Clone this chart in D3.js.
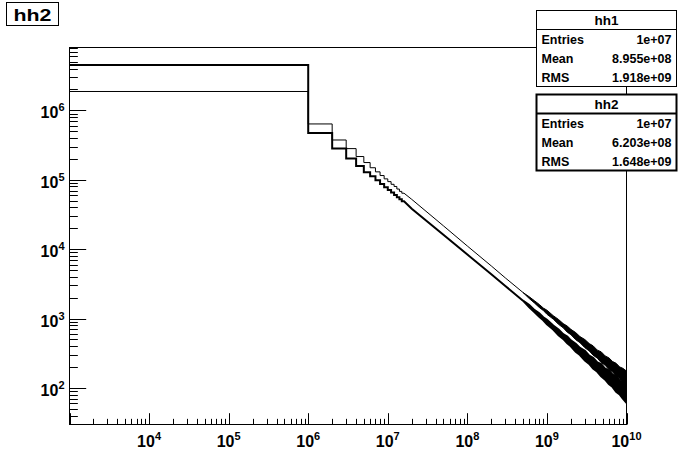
<!DOCTYPE html>
<html><head><meta charset="utf-8">
<script src="https://cdn.jsdelivr.net/npm/d3@7"></script>
<style>
html,body{margin:0;padding:0;background:#fff;}
svg{display:block;}
text{font-family:"Liberation Sans",Arial,Helvetica,sans-serif;font-weight:bold;fill:#000;}
</style></head>
<body><svg id="c" width="696" height="472"></svg>
<script>
// ---------------- data ----------------
const binWidth = 1e6;                       // histogram bin width
const xTickExps = [4,5,6,7,8,9,10];
const yTickExps = [2,3,4,5,6];
// first bins (bin 1 = [0,1e6], bin 2 = [1e6,2e6], ...)
const hh1Head = [1.87e6, 6.37e5, 3.74e5, 2.81e5, 2.16e5, 1.77e5, 1.49e5, 1.30e5, 1.15e5, 1.03e5, 9.4e4, 8.6e4, 8.0e4, 7.35e4, 6.8e4, 6.4e4];
const hh2Head = [4.52e6, 4.72e5, 2.81e5, 2.02e5, 1.58e5, 1.28e5, 1.12e5, 9.8e4, 8.7e4, 7.83e4, 7.11e4, 6.53e4, 6.03e4, 5.61e4, 5.24e4, 4.91e4];
// smooth part of the tail (bin content level at given x)
const tailX    = [2e7, 5e7, 1e8, 2e8, 3e8, 5e8];
const hh1Tail  = [52200, 21700, 11100, 5730, 3855, 2377];
const hh2Tail  = [38300, 16100, 8350, 4340, 2950, 1811];
// fluctuation envelope (min / max of bin contents) of the noisy tail
const noiseX = [5e8, 6e8, 7e8, 8e8, 9e8, 1e9, 1.2e9, 1.4e9, 1.6e9, 1.8e9, 2e9, 2.3e9, 2.6e9, 3e9, 3.4e9, 3.8e9, 4.3e9, 4.8e9, 5.4e9, 6e9, 6.7e9, 7.4e9, 8.2e9, 9e9, 1e10];
const hh1Hi = [2377, 2060, 1799, 1600, 1419, 1320, 1101, 970, 847, 779, 699, 628, 550, 498, 436, 405, 351, 332, 289, 272, 240, 227, 201, 192, 175];
const hh1Lo = [2377, 1940, 1669, 1448, 1309, 1154, 982, 826, 737, 637, 587, 496, 450, 380, 342, 297, 269, 233, 212, 184, 170, 147, 137, 121, 109];
const hh2Hi = [1811, 1567, 1324, 1189, 1046, 964, 795, 697, 597, 550, 485, 435, 377, 342, 293, 273, 234, 221, 189, 179, 156, 146, 128, 121, 108];
const hh2Lo = [1811, 1454, 1234, 1060, 946, 830, 695, 577, 509, 439, 399, 332, 298, 248, 222, 190, 171, 147, 132, 114, 103, 88, 81, 70, 61];
// statistics boxes
const statNames = ["hh1", "hh2"];
const statLabels = ["Entries", "Mean", "RMS"];
const hh1Stats = ["1e+07", "8.955e+08", "1.918e+09"];
const hh2Stats = ["1e+07", "6.203e+08", "1.648e+09"];
const titleText = "hh2";

// ---------------- layout ----------------
const svg = d3.select("#c");
const L = 69.5, R = 626.5, T = 47.5, B = 424.5;
const x = d3.scaleLog().domain([1e3, 1e10]).range([L, R]);
const y = d3.scaleLog().domain([Math.pow(10,1.4737), Math.pow(10,6.9056)]).range([B, T]);

svg.append("rect").attr("width",696).attr("height",472).attr("fill","#fff");

svg.append("clipPath").attr("id","fr").append("rect")
  .attr("x",L).attr("y",T).attr("width",R-L).attr("height",B-T);

const line = d3.line().x(d=>x(d[0])).y(d=>y(d[1]));
const area = d3.area().x(d=>x(d[0])).y0(d=>y(d[1])).y1(d=>y(d[2]));

function histPoints(head, tail){
  const pts = [];
  head.forEach((v,i)=>{
    const x0 = i===0 ? x.domain()[0] : i*binWidth;
    pts.push([x0, v],[(i+1)*binWidth, v]);
  });
  tailX.forEach((t,i)=>pts.push([t, tail[i]]));
  return pts;
}
const g = svg.append("g").attr("clip-path","url(#fr)");
function drawHist(head, tail, lo, hi, w){
  g.append("path").attr("d", line(histPoints(head, tail)))
    .attr("fill","none").attr("stroke","#000").attr("stroke-width",w).attr("stroke-linejoin","miter");
  g.append("path").attr("d", area(noiseX.map((t,i)=>[t, lo[i], hi[i]])))
    .attr("fill","#000").attr("stroke","#000").attr("stroke-width",w).attr("stroke-linejoin","miter");
}
drawHist(hh1Head, hh1Tail, hh1Lo, hh1Hi, 1);
drawHist(hh2Head, hh2Tail, hh2Lo, hh2Hi, 2);

// frame
svg.append("rect").attr("x",L).attr("y",T).attr("width",R-L).attr("height",B-T)
  .attr("fill","none").attr("stroke","#000").attr("stroke-width",1);

// ticks
const xMaj = 11.3, yMaj = 16.7;
const ax = svg.append("g");
for (let e = 3; e <= 10; e++) {
  for (let m = 1; m <= 9; m++) {
    const v = m*Math.pow(10,e);
    if (v < x.domain()[0] || v > x.domain()[1]) continue;
    const len = m===1 ? xMaj : xMaj/2;
    const px = Math.round(x(v))+0.5;
    ax.append("line").attr("x1",px).attr("x2",px).attr("y1",B).attr("y2",B-len).attr("stroke","#000");
  }
}
for (let e = 1; e <= 6; e++) {
  for (let m = 1; m <= 9; m++) {
    const v = m*Math.pow(10,e);
    if (v < y.domain()[0] || v > y.domain()[1]) continue;
    const len = m===1 ? yMaj : yMaj/2;
    const py = Math.round(y(v))+0.5;
    ax.append("line").attr("x1",L).attr("x2",L+len).attr("y1",py).attr("y2",py).attr("stroke","#000");
  }
}
// tick labels
xTickExps.forEach(e=>{
  const t = ax.append("text").attr("x", x(Math.pow(10,e))).attr("y", B+22).attr("text-anchor","middle").attr("font-size",16);
  t.append("tspan").text("10");
  t.append("tspan").attr("dy",-7).attr("font-size",11).text(e);
});
yTickExps.forEach(e=>{
  const t = ax.append("text").attr("x", L-5).attr("y", y(Math.pow(10,e))+8).attr("text-anchor","end").attr("font-size",16);
  t.append("tspan").text("10");
  t.append("tspan").attr("dy",-7).attr("font-size",11).text(e);
});

// stats boxes
function statBox(top, name, vals, w){
  const bx = 536.5, bw = 140, bh = 76, rh = bh/4;
  const gg = svg.append("g");
  gg.append("rect").attr("x",bx).attr("y",top).attr("width",bw).attr("height",bh)
    .attr("fill","#fff").attr("stroke","#000").attr("stroke-width",w);
  gg.append("line").attr("x1",bx).attr("x2",bx+bw).attr("y1",top+rh).attr("y2",top+rh)
    .attr("stroke","#000").attr("stroke-width",w);
  gg.append("text").attr("x",bx+bw/2).attr("y",top+rh/2+5).attr("text-anchor","middle").attr("font-size",13.5).text(name);
  statLabels.forEach((lab,i)=>{
    const cy = top + rh*(i+1) + rh/2 + 4.5;
    gg.append("text").attr("x",bx+5).attr("y",cy).attr("font-size",12.5).text(lab);
    gg.append("text").attr("x",bx+bw-5).attr("y",cy).attr("text-anchor","end").attr("font-size",12.5).text(vals[i]);
  });
}
statBox(10.5, statNames[0], hh1Stats, 1);
statBox(94.5, statNames[1], hh2Stats, 2);

// title box
svg.append("rect").attr("x",6.5).attr("y",2.5).attr("width",52).attr("height",23)
  .attr("fill","#fff").attr("stroke","#000").attr("stroke-width",1);
svg.append("text").attr("x",32.5).attr("y",21).attr("text-anchor","middle").attr("font-size",17)
  .attr("textLength",38).attr("lengthAdjust","spacingAndGlyphs").text(titleText);
</script></body></html>
